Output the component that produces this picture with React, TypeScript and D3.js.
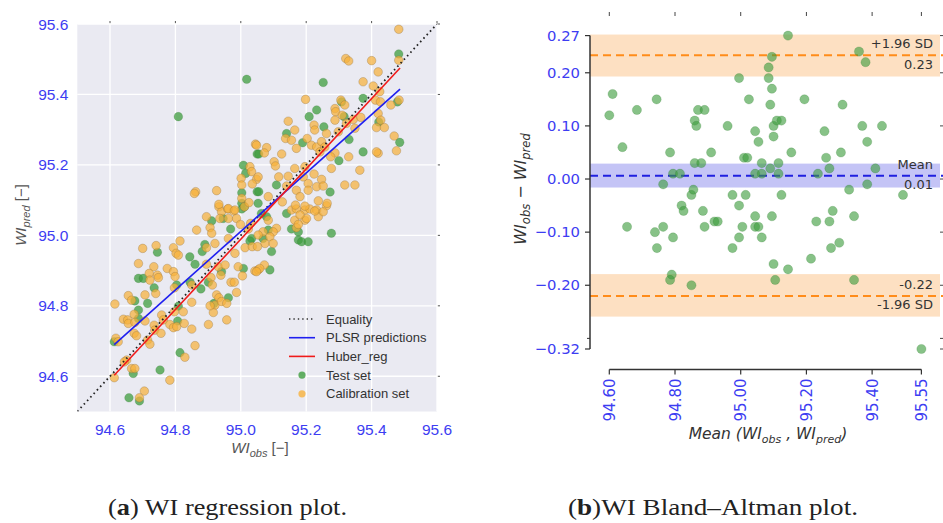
import React from 'react';
import * as d3 from 'd3';

// regression panel (a): [WI_obs, WI_pred]
const testSet: [number, number][] = [
  [95.003, 95.075], [94.911, 95.041], [94.946, 95.048], [94.969, 95.018], [95.033, 94.991],
  [94.745, 94.952], [94.844, 94.939], [94.890, 94.974], [94.882, 94.954], [95.028, 94.984],
  [94.687, 94.878], [94.702, 94.878], [94.860, 94.918], [94.941, 94.897], [95.008, 94.906],
  [94.735, 94.851], [94.804, 94.859], [94.845, 94.867], [94.878, 94.848], [94.901, 94.867],
  [94.676, 94.814], [94.715, 94.807], [94.918, 94.807], [94.962, 94.823], [94.687, 94.788],
  [94.687, 94.764], [94.809, 94.799], [94.807, 94.757], [94.613, 94.698], [94.814, 94.667],
  [94.671, 94.608], [94.753, 94.618], [94.658, 94.539], [94.690, 94.530],
  [95.140, 95.062], [95.063, 95.062], [95.079, 95.053], [95.084, 95.015], [95.068, 94.991],
  [95.155, 95.018], [95.176, 95.010], [95.176, 94.987], [95.186, 94.982], [95.206, 94.982],
  [95.277, 95.006], [95.094, 94.954], [95.089, 94.902],
  [95.018, 95.443], [94.809, 95.337], [95.050, 95.231], [95.008, 95.199], [95.015, 95.176],
  [95.003, 95.121], [95.050, 95.124], [95.003, 95.091], [95.011, 95.081],
  [95.483, 95.515], [95.252, 95.434], [95.374, 95.389], [95.479, 95.379], [95.308, 95.379],
  [95.232, 95.356], [95.209, 95.337], [95.316, 95.337], [95.422, 95.322], [95.254, 95.308],
  [95.140, 95.289], [95.331, 95.272], [95.486, 95.264], [95.374, 95.237], [95.055, 95.231],
  [95.189, 95.263], [95.300, 95.212], [95.109, 95.143], [95.055, 95.124], [95.273, 95.123],
  [95.053, 95.091],
];

const calibrationSet: [number, number][] = [
  [94.933, 95.081], [94.941, 95.067], [94.960, 95.075], [94.978, 95.069], [95.011, 95.081],
  [94.895, 95.053], [94.936, 95.048], [94.962, 95.048], [94.987, 95.048], [94.999, 95.031],
  [94.865, 95.015], [94.906, 95.022], [94.911, 95.006], [95.023, 95.018], [95.030, 95.034],
  [94.814, 94.984], [94.794, 94.965], [94.802, 94.949], [94.809, 94.944], [94.741, 94.971],
  [94.700, 94.963], [94.895, 94.965], [94.921, 94.977], [94.962, 94.991], [94.982, 94.949],
  [95.013, 94.965], [95.035, 94.968], [94.687, 94.920], [94.734, 94.911], [94.720, 94.892],
  [94.722, 94.873], [94.745, 94.887], [94.748, 94.880], [94.775, 94.906], [94.794, 94.897],
  [94.799, 94.883], [94.895, 94.918], [94.909, 94.880], [94.931, 94.911], [94.939, 94.887],
  [94.952, 94.916], [94.970, 94.867], [94.980, 94.867], [94.992, 94.911], [95.005, 94.885],
  [95.043, 94.899], [95.053, 94.902], [94.740, 94.835], [94.707, 94.831], [94.797, 94.851],
  [94.850, 94.859], [94.913, 94.859], [94.656, 94.829], [94.666, 94.816], [94.615, 94.805],
  [94.850, 94.810], [94.926, 94.831], [94.933, 94.823], [94.921, 94.802], [94.941, 94.812],
  [94.957, 94.807], [94.987, 94.838], [94.674, 94.776], [94.641, 94.762], [94.654, 94.760],
  [94.656, 94.750], [94.676, 94.753], [94.707, 94.757], [94.758, 94.774], [94.763, 94.760],
  [94.824, 94.783], [94.797, 94.783], [94.916, 94.781], [94.906, 94.800], [94.957, 94.760],
  [94.901, 94.747], [94.735, 94.745], [94.737, 94.731], [94.783, 94.747], [94.794, 94.738],
  [94.804, 94.741], [94.827, 94.750], [94.850, 94.734], [94.756, 94.722], [94.674, 94.722],
  [94.681, 94.715], [94.618, 94.708], [94.625, 94.698], [94.715, 94.703], [94.722, 94.691],
  [94.860, 94.687], [94.651, 94.646], [94.644, 94.641], [94.829, 94.654], [94.666, 94.622],
  [94.676, 94.622], [94.613, 94.596], [94.783, 94.589], [94.705, 94.558], [94.690, 94.539],
  [95.155, 95.072], [95.170, 95.075], [95.196, 95.072], [95.211, 95.075], [95.232, 95.072],
  [95.237, 95.053], [95.262, 95.084], [95.165, 95.043], [95.196, 95.043], [95.201, 95.048],
  [95.181, 95.058], [95.252, 95.067], [95.226, 95.069], [95.084, 95.043], [95.068, 95.010],
  [95.109, 95.020], [95.099, 95.010], [95.053, 95.001], [95.089, 94.996], [95.170, 95.022],
  [95.176, 95.031], [95.074, 94.977], [95.099, 94.977], [95.051, 94.968], [95.072, 94.916],
  [95.058, 94.906], [95.048, 94.897],
  [95.045, 95.259], [95.028, 95.195], [95.033, 95.181], [95.001, 95.162], [95.048, 95.159],
  [95.035, 95.146], [95.003, 95.143], [94.862, 95.124], [94.858, 95.119], [94.926, 95.127],
  [95.003, 95.105], [94.933, 95.088], [94.962, 95.076], [94.982, 95.072], [95.025, 95.093],
  [95.483, 95.585], [95.483, 95.497], [95.321, 95.502], [95.330, 95.495], [95.400, 95.496],
  [95.420, 95.464], [95.374, 95.436], [95.405, 95.424], [95.425, 95.408], [95.412, 95.384],
  [95.427, 95.379], [95.459, 95.370], [95.484, 95.384], [95.198, 95.386], [95.306, 95.384],
  [95.288, 95.360], [95.290, 95.351], [95.318, 95.370], [95.145, 95.324], [95.288, 95.327],
  [95.310, 95.341], [95.323, 95.318], [95.344, 95.329], [95.367, 95.335], [95.420, 95.346],
  [95.428, 95.327], [95.415, 95.306], [95.439, 95.306], [95.224, 95.313], [95.226, 95.299],
  [95.165, 95.299], [95.262, 95.289], [95.298, 95.294], [95.349, 95.304], [95.469, 95.282],
  [95.476, 95.240], [95.420, 95.233], [95.415, 95.237], [95.048, 95.256], [95.079, 95.249],
  [95.072, 95.234], [95.125, 95.231], [95.137, 95.275], [95.155, 95.270], [95.170, 95.247],
  [95.203, 95.275], [95.216, 95.256], [95.232, 95.251], [95.247, 95.266], [95.242, 95.237],
  [95.257, 95.251], [95.288, 95.234], [95.275, 95.223], [95.330, 95.223], [95.364, 95.185],
  [95.277, 95.190], [95.102, 95.209], [95.106, 95.197], [95.165, 95.190], [95.196, 95.195],
  [95.053, 95.166], [95.116, 95.166], [95.145, 95.168], [95.191, 95.166], [95.224, 95.174],
  [95.247, 95.159], [95.140, 95.140], [95.206, 95.147], [95.232, 95.138], [95.252, 95.140],
  [95.318, 95.143], [95.349, 95.143], [95.170, 95.128], [95.181, 95.110], [95.206, 95.128],
  [95.084, 95.110], [95.237, 95.098], [95.264, 95.091], [95.167, 95.086], [95.196, 95.083],
  [95.127, 95.095],
];

const plsrObs = [94.613, 95.487];
const plsrPred = [94.690, 95.415];
const huberObs = [94.613, 95.487];
const huberPred = [94.603, 95.475];

const regTicks = [94.6, 94.8, 95.0, 95.2, 95.4, 95.6];

// Bland-Altman panel (b): [mean, difference]
const blandAltman: [number, number][] = [
  [94.600, 0.12], [94.610, 0.16], [94.640, 0.06], [94.654, -0.09], [94.684, 0.13],
  [94.744, 0.15], [94.739, -0.10], [94.745, -0.13], [94.764, -0.09], [94.764, -0.01],
  [94.785, 0.05], [94.794, 0.01], [94.815, 0.01], [94.794, -0.11], [94.820, -0.05],
  [94.826, -0.06], [94.850, -0.03], [94.856, -0.02], [94.860, 0.11], [94.865, 0.10],
  [94.870, 0.13], [94.890, 0.13], [94.860, 0.03], [94.880, 0.03], [94.885, -0.06],
  [94.890, -0.09], [94.910, 0.05], [94.920, -0.08], [94.930, -0.08], [94.960, 0.10],
  [94.975, -0.03], [94.995, 0.19], [94.995, -0.05], [94.995, -0.11], [94.975, -0.13],
  [95.005, -0.09], [95.010, 0.04], [95.020, 0.04], [95.015, -0.03], [95.025, 0.15],
  [95.044, 0.09], [95.054, 0.07], [95.044, 0.01], [95.064, 0.01], [95.064, 0.03],
  [95.044, -0.07], [95.044, -0.09], [95.054, -0.09], [95.064, -0.11], [95.085, 0.21],
  [95.095, 0.23], [95.085, 0.19], [95.095, 0.17], [95.090, 0.14], [95.100, 0.10],
  [95.110, 0.11], [95.124, 0.11], [95.100, 0.08], [95.090, 0.02], [95.115, 0.03],
  [95.115, 0.01], [95.095, -0.07], [95.124, -0.03], [95.144, 0.27], [95.154, 0.05],
  [95.194, 0.15], [95.214, -0.15], [95.235, 0.01], [95.230, -0.08], [95.255, 0.09],
  [95.260, 0.04], [95.270, 0.02], [95.270, -0.08], [95.280, -0.06], [95.305, 0.05],
  [95.310, 0.14], [95.330, -0.02], [95.345, -0.07], [95.360, 0.24], [95.380, 0.22],
  [95.370, 0.10], [95.385, 0.07], [95.410, 0.02], [95.385, -0.01], [95.430, 0.10],
  [95.494, -0.03], [95.100, -0.16], [95.144, -0.17], [95.105, -0.19], [95.275, -0.13],
  [95.300, -0.12], [95.345, -0.19], [94.790, -0.18], [94.785, -0.19], [94.850, -0.20],
  [95.550, -0.32],
];

const baXTicks = [94.6, 94.8, 95.0, 95.2, 95.4, 95.55];
const baYTicks = [0.27, 0.2, 0.1, 0.0, -0.1, -0.2, -0.32];
const baMinorTicks = [-0.3];

const meanDiff = 0.006;
const meanBand = [-0.016, 0.029];
const upperLoA = 0.233;
const upperBand = [0.193, 0.272];
const lowerLoA = -0.22;
const lowerBand = [-0.259, -0.179];

const BLUE_TXT = '#3d3df2';
const SANS = '"Liberation Sans", Arial, sans-serif';
const DEJAVU = '"DejaVu Sans", sans-serif';
const SERIF = '"Liberation Serif", serif';

function fmtMinus(v: number, digits: number) {
  return v.toFixed(digits).replace('-', '\u2212');
}

function RegressionPanel() {
  const x = d3.scaleLinear().domain([94.5, 95.6]).range([77.3, 437]);
  const y = d3.scaleLinear().domain([94.5, 95.6]).range([411.5, 24]);
  const line = d3.line<[number, number]>().x(d => x(d[0])).y(d => y(d[1]));
  const zip = (a: number[], b: number[]) => a.map((v, i) => [v, b[i]] as [number, number]);

  const legend = [
    { label: 'Equality', kind: 'dot' },
    { label: 'PLSR predictions', kind: 'blue' },
    { label: 'Huber_reg', kind: 'red' },
    { label: 'Test set', kind: 'test' },
    { label: 'Calibration set', kind: 'cal' },
  ];

  return (
    <g>
      <defs>
        <clipPath id="regClip">
          <rect x={x(94.5)} y={y(95.6)} width={x(95.6) - x(94.5)} height={y(94.5) - y(95.6)} />
        </clipPath>
      </defs>
      <rect x={x(94.5)} y={y(95.6)} width={x(95.6) - x(94.5)} height={y(94.5) - y(95.6)} fill="#eaeaf2" />
      {regTicks.map(t => (
        <g key={'g' + t}>
          <line x1={x(t)} x2={x(t)} y1={y(94.5)} y2={y(95.6)} stroke="#fff" strokeWidth={1.3} />
          <line x1={x(94.5)} x2={x(95.6)} y1={y(t)} y2={y(t)} stroke="#fff" strokeWidth={1.3} />
          {/* small top / right ticks */}
          <line x1={x(t)} x2={x(t)} y1={y(95.6) - 3} y2={y(95.6) - 0.5} stroke="#555" strokeWidth={1} />
          <line x1={x(95.6) + 0.5} x2={x(95.6) + 3} y1={y(t)} y2={y(t)} stroke="#555" strokeWidth={1} />
          <text x={x(t)} y={y(94.5) + 23} textAnchor="middle" fontSize={15.5} fill={BLUE_TXT} fontFamily={SANS}>
            {t.toFixed(1)}
          </text>
          <text x={x(94.5) - 9} y={y(t) + 5.5} textAnchor="end" fontSize={15.5} fill={BLUE_TXT} fontFamily={SANS}>
            {t.toFixed(1)}
          </text>
        </g>
      ))}
      <g clipPath="url(#regClip)">
        {testSet.map((d, i) => (
          <circle key={'t' + i} cx={x(d[0])} cy={y(d[1])} r={4.3} fill="#3f9e3f" fillOpacity={0.75}
            stroke="#2d6e2d" strokeOpacity={0.4} strokeWidth={0.5} />
        ))}
        {calibrationSet.map((d, i) => (
          <circle key={'c' + i} cx={x(d[0])} cy={y(d[1])} r={4.3} fill="#f7b13c" fillOpacity={0.72}
            stroke="#8c7040" strokeOpacity={0.55} strokeWidth={0.6} />
        ))}
        <path d={line([[94.5, 94.5], [95.6, 95.6]]) || ''} stroke="#222" strokeWidth={1.8}
          strokeDasharray="1.6 3.2" fill="none" />
        <path d={line(zip(plsrObs, plsrPred)) || ''} stroke="#1f1ff0" strokeWidth={1.6} fill="none" />
        <path d={line(zip(huberObs, huberPred)) || ''} stroke="#f01a1a" strokeWidth={1.6} fill="none" />
      </g>
      {/* legend */}
      {legend.map((e, i) => {
        const ly = 319 + i * 18.7;
        return (
          <g key={e.label}>
            {e.kind === 'dot' && (
              <line x1={289} x2={315} y1={ly} y2={ly} stroke="#333" strokeWidth={1.6} strokeDasharray="1.4 3" />
            )}
            {e.kind === 'blue' && <line x1={289} x2={315} y1={ly} y2={ly} stroke="#1f1ff0" strokeWidth={1.6} />}
            {e.kind === 'red' && <line x1={289} x2={315} y1={ly} y2={ly} stroke="#f01a1a" strokeWidth={1.6} />}
            {e.kind === 'test' && <circle cx={302} cy={ly} r={3.6} fill="#3f9e3f" fillOpacity={0.8} />}
            {e.kind === 'cal' && <circle cx={302} cy={ly} r={3.6} fill="#f7b13c" fillOpacity={0.8} />}
            <text x={326} y={ly + 4.5} fontSize={13} fill="#333" fontFamily={SANS}>{e.label}</text>
          </g>
        );
      })}
      {/* axis labels */}
      <text x={260} y={453} textAnchor="middle" fontSize={15} fill="#555" fontFamily={SANS}>
        <tspan fontStyle="italic">WI</tspan>
        <tspan fontStyle="italic" fontSize={11} dy={4}>obs</tspan>
        <tspan dy={-4}> [−]</tspan>
      </text>
      <text transform="translate(26,215) rotate(-90)" textAnchor="middle" fontSize={15} fill="#555" fontFamily={SANS}>
        <tspan fontStyle="italic">WI</tspan>
        <tspan fontStyle="italic" fontSize={11} dy={4}>pred</tspan>
        <tspan dy={-4}> [−]</tspan>
      </text>
    </g>
  );
}

function BlandAltmanPanel() {
  const x = d3.scaleLinear().domain([94.6, 95.55]).range([609.3, 921.4]);
  const y = d3.scaleLinear().domain([-0.32, 0.27]).range([349, 35.6]);
  const left = 590;
  const right = 940;
  const bottom = 369.5;

  const annot = [
    { v: upperLoA, top: '+1.96 SD', bot: upperLoA.toFixed(2) },
    { v: meanDiff, top: 'Mean', bot: meanDiff.toFixed(2) },
    { v: lowerLoA, top: lowerLoA.toFixed(2), bot: '-1.96 SD' },
  ];

  return (
    <g fontFamily={DEJAVU}>
      <rect x={left} width={right - left} y={y(upperBand[1])} height={y(upperBand[0]) - y(upperBand[1])} fill="#fde0c2" />
      <rect x={left} width={right - left} y={y(lowerBand[1])} height={y(lowerBand[0]) - y(lowerBand[1])} fill="#fde0c2" />
      <rect x={left} width={right - left} y={y(meanBand[1])} height={y(meanBand[0]) - y(meanBand[1])} fill="#c4c4f6" />
      <line x1={left} x2={943} y1={y(upperLoA)} y2={y(upperLoA)} stroke="#ff8c1a" strokeWidth={2} strokeDasharray="8 5" />
      <line x1={left} x2={943} y1={y(lowerLoA)} y2={y(lowerLoA)} stroke="#ff8c1a" strokeWidth={2} strokeDasharray="8 5" />
      <line x1={left} x2={943} y1={y(meanDiff)} y2={y(meanDiff)} stroke="#1f1fe0" strokeWidth={2} strokeDasharray="8 5" />

      {blandAltman.map((d, i) => (
        <circle key={i} cx={x(d[0])} cy={y(d[1])} r={4.6} fill="#3e9c3e" fillOpacity={0.62}
          stroke="#2a7a2a" strokeOpacity={0.35} strokeWidth={0.6} />
      ))}

      {annot.map(a => (
        <g key={a.top}>
          <text x={933} y={y(a.v) - 7} textAnchor="end" fontSize={13} fill="#333">{a.top}</text>
          <text x={933} y={y(a.v) + 13.5} textAnchor="end" fontSize={13} fill="#333">{a.bot}</text>
        </g>
      ))}

      {/* left spine */}
      <line x1={left} x2={left} y1={y(0.27)} y2={y(-0.32)} stroke="#333" strokeWidth={1.5} />
      {baYTicks.map(t => (
        <g key={'y' + t}>
          <line x1={left - 5} x2={left} y1={y(t)} y2={y(t)} stroke="#333" strokeWidth={1.2} />
          <line x1={right} x2={right + 3} y1={y(t)} y2={y(t)} stroke="#444" strokeWidth={1} />
          <text x={left - 10} y={y(t) + 5} textAnchor="end" fontSize={14.8} fill={BLUE_TXT}>
            {fmtMinus(t, 2)}
          </text>
        </g>
      ))}
      {baMinorTicks.map(t => (
        <g key={'m' + t}>
          <line x1={left - 3} x2={left} y1={y(t)} y2={y(t)} stroke="#333" strokeWidth={1} />
          <line x1={right} x2={right + 3} y1={y(t)} y2={y(t)} stroke="#444" strokeWidth={1} />
        </g>
      ))}

      {/* bottom spine */}
      <line x1={x(94.6)} x2={x(95.55)} y1={bottom} y2={bottom} stroke="#333" strokeWidth={1.5} />
      {baXTicks.map(t => (
        <g key={'x' + t}>
          <line x1={x(t)} x2={x(t)} y1={bottom} y2={bottom + 5} stroke="#333" strokeWidth={1.2} />
          <line x1={x(t)} x2={x(t)} y1={12} y2={16} stroke="#444" strokeWidth={1} />
          <text transform={`translate(${x(t) + 5.5},${bottom + 9}) rotate(-90)`} textAnchor="end"
            fontSize={15} fill={BLUE_TXT}>
            {t.toFixed(2)}
          </text>
        </g>
      ))}

      {/* axis labels */}
      <text x={768} y={439} textAnchor="middle" fontSize={15.5} fill="#333" fontStyle="italic">
        <tspan>Mean (WI</tspan>
        <tspan fontSize={11} dy={4}>obs</tspan>
        <tspan dy={-4}> , WI</tspan>
        <tspan fontSize={11} dy={4}>pred</tspan>
        <tspan dy={-4}>)</tspan>
      </text>
      <text transform="translate(526,189) rotate(-90)" textAnchor="middle" fontSize={16} fill="#333" fontStyle="italic">
        <tspan>WI</tspan>
        <tspan fontSize={11.5} dy={4}>obs</tspan>
        <tspan dy={-4} fontStyle="normal">{'  \u2212  '}</tspan>
        <tspan>WI</tspan>
        <tspan fontSize={11.5} dy={4}>pred</tspan>
      </text>
    </g>
  );
}

export default function App() {
  return (
    <svg width={943} height={523} style={{ position: 'absolute', left: 0, top: 0, background: '#fff' }}>
      <RegressionPanel />
      <BlandAltmanPanel />
      <text x={108} y={515} fontSize={24} fill="#222" fontFamily={SERIF}
        textLength={239} lengthAdjust="spacingAndGlyphs">
        (<tspan fontWeight="bold">a</tspan>) WI regression plot.
      </text>
      <text x={568} y={515} fontSize={24} fill="#222" fontFamily={SERIF}
        textLength={290} lengthAdjust="spacingAndGlyphs">
        (<tspan fontWeight="bold">b</tspan>)WI Bland–Altman plot.
      </text>
    </svg>
  );
}
